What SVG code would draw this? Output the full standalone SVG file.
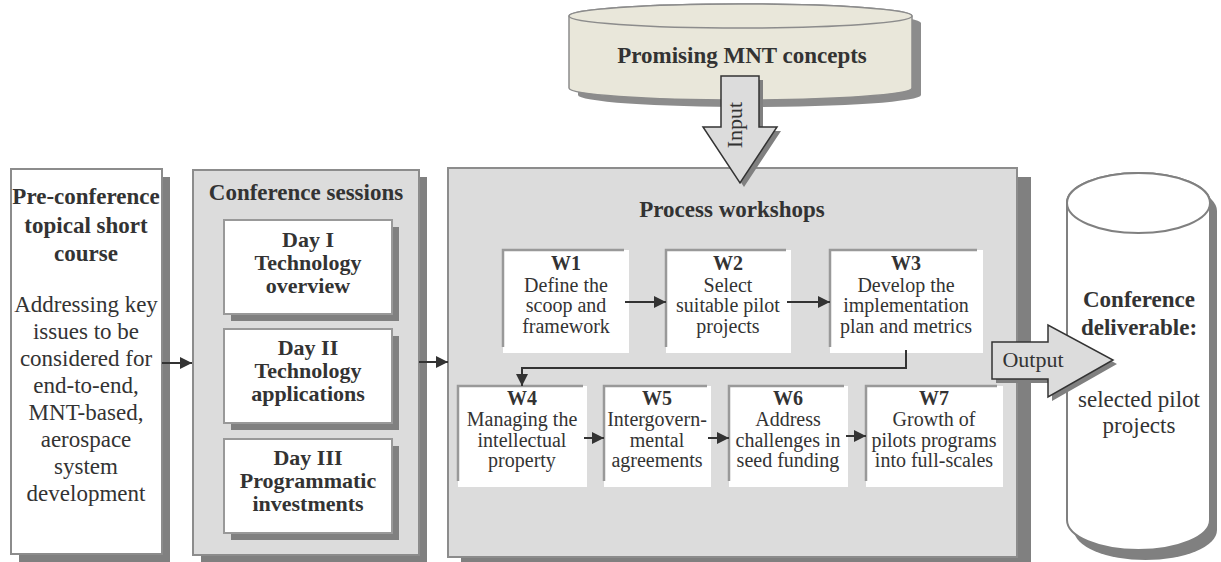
<svg xmlns="http://www.w3.org/2000/svg" width="1221" height="562" viewBox="0 0 1221 562">
<style>
text{font-family:"Liberation Serif","Times New Roman",serif;fill:#333;text-anchor:middle}
.b{font-weight:bold}
.t23{font-size:23px}
.t22{font-size:22px}
.t20{font-size:20px}
.sh{fill:#808080}
.panel{fill:#dcdcdc;stroke:#8c8c8c;stroke-width:2}
.wbox{fill:#fff;stroke:#999;stroke-width:2}
.wtl{fill:none;stroke:#999;stroke-width:2.5}
.conn{fill:none;stroke:#333;stroke-width:2}
.bigarrow{fill:#dcdcdc;stroke:#333;stroke-width:1.5}
</style>
<defs>
<marker id="ah" markerWidth="12" markerHeight="12" refX="12" refY="6" orient="auto" markerUnits="userSpaceOnUse">
<path d="M0,0 L12,6 L0,12 Z" fill="#333"/>
</marker>
</defs>

<g id="pre-conference">
<rect class="sh" x="19" y="177" width="151" height="385"/>
<rect x="11" y="169" width="151" height="385" fill="#fff" stroke="#8c8c8c" stroke-width="2"/>
<text class="b t23" x="86" y="204">Pre-conference</text>
<text class="b t23" x="86" y="233">topical short</text>
<text class="b t23" x="86" y="261">course</text>
<text class="t23" x="86" y="312">Addressing key</text>
<text class="t23" x="86" y="339">issues to be</text>
<text class="t23" x="86" y="366">considered for</text>
<text class="t23" x="86" y="393">end-to-end,</text>
<text class="t23" x="86" y="420">MNT-based,</text>
<text class="t23" x="86" y="447">aerospace</text>
<text class="t23" x="86" y="474">system</text>
<text class="t23" x="86" y="501">development</text>
</g>

<g id="conference-sessions">
<rect class="sh" x="201" y="177" width="226" height="385"/>
<rect class="panel" x="193" y="170" width="226" height="385"/>
<text class="b t23" x="306" y="200">Conference sessions</text>
</g>

<g id="day1">
<rect class="sh" x="231" y="227" width="168" height="94"/>
<rect class="wbox" x="224" y="220" width="168" height="94"/>
<text class="b t22" x="308" y="247">Day I</text>
<text class="b t22" x="308" y="270">Technology</text>
<text class="b t22" x="308" y="293">overview</text>
</g>
<g id="day2">
<rect class="sh" x="231" y="336" width="168" height="94"/>
<rect class="wbox" x="224" y="329" width="168" height="94"/>
<text class="b t22" x="308" y="355">Day II</text>
<text class="b t22" x="308" y="378">Technology</text>
<text class="b t22" x="308" y="401">applications</text>
</g>
<g id="day3">
<rect class="sh" x="231" y="446" width="168" height="94"/>
<rect class="wbox" x="224" y="439" width="168" height="94"/>
<text class="b t22" x="308" y="465">Day III</text>
<text class="b t22" x="308" y="488">Programmatic</text>
<text class="b t22" x="308" y="511">investments</text>
</g>

<g id="process-workshops">
<rect class="sh" x="461" y="177" width="570" height="385"/>
<rect class="panel" x="448" y="168" width="569" height="389"/>
<text class="b t23" x="732" y="217">Process workshops</text>
</g>

<g id="w1">
<rect x="503" y="250" width="126" height="103" fill="#fff"/>
<polyline class="wtl" points="503,347 503,250 624,250"/>
<text class="b t20" x="566" y="270">W1</text>
<text class="t20" x="566" y="292">Define the</text>
<text class="t20" x="566" y="312">scoop and</text>
<text class="t20" x="566" y="333">framework</text>
</g>
<g id="w2">
<rect x="666" y="250" width="125" height="103" fill="#fff"/>
<polyline class="wtl" points="666,347 666,250 786,250"/>
<text class="b t20" x="728" y="270">W2</text>
<text class="t20" x="728" y="292">Select</text>
<text class="t20" x="728" y="312">suitable pilot</text>
<text class="t20" x="728" y="333">projects</text>
</g>
<g id="w3">
<rect x="830" y="250" width="153" height="103" fill="#fff"/>
<polyline class="wtl" points="830,347 830,250 977,250"/>
<text class="b t20" x="906" y="270">W3</text>
<text class="t20" x="906" y="292">Develop the</text>
<text class="t20" x="906" y="312">implementation</text>
<text class="t20" x="906" y="333">plan and metrics</text>
</g>
<g id="w4">
<rect x="458" y="386" width="129" height="101" fill="#fff"/>
<polyline class="wtl" points="458,481 458,386 583,386"/>
<text class="b t20" x="522" y="405">W4</text>
<text class="t20" x="522" y="426">Managing the</text>
<text class="t20" x="522" y="447">intellectual</text>
<text class="t20" x="522" y="467">property</text>
</g>
<g id="w5">
<rect x="604" y="386" width="107" height="101" fill="#fff"/>
<polyline class="wtl" points="604,481 604,386 707,386"/>
<text class="b t20" x="657" y="405">W5</text>
<text class="t20" x="657" y="426">Intergovern-</text>
<text class="t20" x="657" y="447">mental</text>
<text class="t20" x="657" y="467">agreements</text>
</g>
<g id="w6">
<rect x="729" y="386" width="119" height="101" fill="#fff"/>
<polyline class="wtl" points="729,481 729,386 844,386"/>
<text class="b t20" x="788" y="405">W6</text>
<text class="t20" x="788" y="426">Address</text>
<text class="t20" x="788" y="447">challenges in</text>
<text class="t20" x="788" y="467">seed funding</text>
</g>
<g id="w7">
<rect x="866" y="386" width="137" height="101" fill="#fff"/>
<polyline class="wtl" points="866,481 866,386 997,386"/>
<text class="b t20" x="934" y="405">W7</text>
<text class="t20" x="934" y="426">Growth of</text>
<text class="t20" x="934" y="447">pilots programs</text>
<text class="t20" x="934" y="467">into full-scales</text>
</g>

<g id="deliverable">
<path class="sh" d="M1074,211 A71.5,30 0 0 1 1217,211 L1217,530 A71.5,30 0 0 1 1074,530 Z"/>
<path d="M1067,203 A71.5,30 0 0 1 1210,203 L1210,520 A71.5,30 0 0 1 1067,520 Z" fill="#fff" stroke="#808080" stroke-width="2"/>
<ellipse cx="1138.5" cy="203" rx="71.5" ry="30" fill="#fff" stroke="#808080" stroke-width="2"/>
<text class="b t23" x="1139" y="307">Conference</text>
<text class="b t23" x="1139" y="335">deliverable:</text>
<text class="t23" x="1139" y="407">selected pilot</text>
<text class="t23" x="1139" y="433">projects</text>
</g>

<g id="mnt-concepts">
<path class="sh" d="M578,23 A171.5,12 0 0 1 921,23 L921,95 A171.5,12 0 0 1 578,95 Z" opacity="0.9"/>
<path d="M569,16 A171.5,12 0 0 1 912,16 L912,88 A171.5,12 0 0 1 569,88 Z" fill="#e9e7da" stroke="#8c8c8c" stroke-width="1.5"/>
<ellipse cx="740.5" cy="16" rx="171.5" ry="12" fill="#e9e7da" stroke="#8c8c8c" stroke-width="1.5"/>
<text class="b t23" x="742" y="63">Promising MNT concepts</text>
</g>

<g id="input-arrow">
<polygon class="sh" points="725,80 763,80 763,131 781,131 744,187 707,131 725,131"/>
<polygon class="bigarrow" points="721,76 759,76 759,127 777,127 740,183 703,127 721,127"/>
<text class="t22" transform="translate(742,125) rotate(-90)">Input</text>
</g>

<g id="output-arrow">
<polygon class="sh" points="996,346 1052,346 1052,329 1117,364 1052,401 1052,383 996,383"/>
<polygon class="bigarrow" points="992,342 1048,342 1048,325 1113,360 1048,397 1048,379 992,379"/>
<text class="t22" x="1033" y="367">Output</text>
</g>

<g id="connectors">
<line class="conn" x1="162" y1="363" x2="192" y2="363" marker-end="url(#ah)"/>
<line class="conn" x1="419" y1="362" x2="448" y2="362" marker-end="url(#ah)"/>
<line class="conn" x1="625" y1="302" x2="666" y2="302" marker-end="url(#ah)"/>
<line class="conn" x1="787" y1="302" x2="830" y2="302" marker-end="url(#ah)"/>
<polyline class="conn" points="906,350 906,368 522,368 522,386" marker-end="url(#ah)"/>
<line class="conn" x1="584" y1="438" x2="604" y2="438" marker-end="url(#ah)"/>
<line class="conn" x1="708" y1="438" x2="729" y2="438" marker-end="url(#ah)"/>
<line class="conn" x1="846" y1="436" x2="866" y2="436" marker-end="url(#ah)"/>
</g>
</svg>
